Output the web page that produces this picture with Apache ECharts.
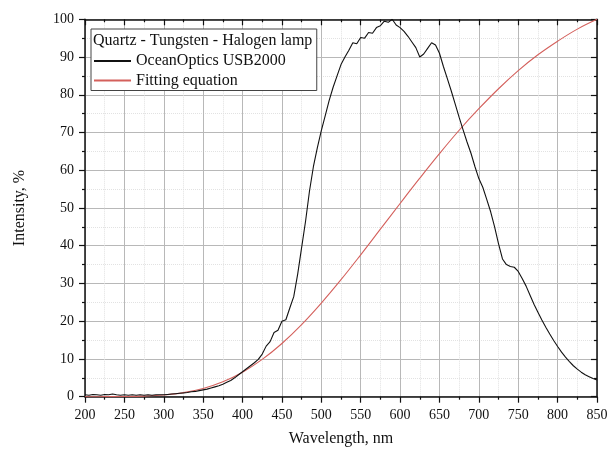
<!DOCTYPE html>
<html>
<head>
<meta charset="utf-8">
<script src="https://cdn.jsdelivr.net/npm/echarts@6/dist/echarts.min.js"></script>
<style>
html,body{margin:0;padding:0;background:#fff;overflow:hidden;}
#chart{width:607px;height:458px;}
</style>
</head>
<body>
<div id="chart"></div>
<script>
// Measured spectrum (OceanOptics USB2000)
var specWl = [200,205,210,215,220,225,230,235,240,245,250,255,260,265,270,275,280,285,290,295,
  300,305,310,315,320,325,330,335,340,345,350,355,360,365,370,375,380,385,390,395,
  400,405,410,415,420,425,430,435,440,445,450,455,460,465,470,475,480,485,490,495,
  500,505,510,515,520,525,530,535,540,545,550,555,560,565,570,575,580,585,590,595,
  600,605,610,615,620,625,630,635,640,645,650,655,660,665,670,675,680,685,690,695,
  700,705,710,715,720,725,730,735,740,745,750,755,760,765,770,775,780,785,790,795,
  800,805,810,815,820,825,830,835,840,845,850];
var specVal = [0.5,0.4,0.6,0.5,0.4,0.6,0.5,0.7,0.5,0.4,0.5,0.4,0.5,0.4,0.5,0.4,0.5,0.4,0.5,0.5,
  0.5,0.6,0.7,0.8,0.9,1.0,1.1,1.3,1.4,1.6,1.8,2.0,2.3,2.6,2.9,3.3,3.8,4.3,5.0,5.8,
  6.6,7.4,8.2,9.0,9.9,11.3,13.4,14.6,17.0,17.6,20.0,20.4,23.5,26.5,32.5,39.5,46.5,54.5,61.0,66.0,
  70.5,74.5,78.5,82.0,85.0,88.0,90.0,91.8,93.8,93.5,95.2,95.0,96.5,96.3,97.8,98.3,99.5,99.2,100,98.5,
  97.8,96.8,95.5,94.0,92.5,90.0,90.8,92.3,93.8,93.2,91.0,87.5,84.3,81.0,77.5,74.0,70.7,67.5,64.5,61.0,
  57.8,55.5,52.3,49.0,45.0,40.5,36.5,35.0,34.5,34.3,33.2,31.3,29.3,26.9,24.5,22.4,20.3,18.4,16.6,14.9,
  13.3,11.8,10.5,9.3,8.2,7.3,6.5,5.8,5.3,4.8,4.4];
// Fitting equation curve
var fitWl = [200,225,250,275,300,325,350,375,400,425,450,475,500,525,550,575,600,625,650,675,700,725,750,775,800,825,850];
var fitVal = [0.0,0.01,0.04,0.16,0.46,1.08,2.19,3.96,6.5,9.88,14.1,19.1,24.8,31.0,37.6,44.4,51.2,57.9,64.4,70.6,76.3,81.6,86.4,90.6,94.2,97.4,100];
var seriesNames = ['OceanOptics USB2000', 'Fitting equation'];
var legendTitle = 'Quartz - Tungsten - Halogen lamp';
var xName = 'Wavelength, nm';
var yName = 'Intensity, %';

function pairs(xs, ys){ return xs.map(function(x,i){ return [x, ys[i]]; }); }

var FONT = 'Liberation Serif';
var chart = echarts.init(document.getElementById('chart'), null, {renderer:'canvas', width:607, height:458});
var majorGrid = {show:true, lineStyle:{color:'#b8b8b8', width:1}};
var minorGrid = {show:true, lineStyle:{color:'#e2e2e2', width:1, type:'dotted'}};
var axisLine = {show:true, onZero:false, lineStyle:{color:'#111', width:1.5}};
chart.setOption({
  animation:false,
  backgroundColor:'#fff',
  title:{
    text:legendTitle, left:93, top:33, padding:0,
    textStyle:{fontFamily:FONT, fontSize:16, fontWeight:'normal', color:'#111'}
  },
  legend:{
    data:seriesNames, orient:'vertical', left:91, top:29,
    padding:[24,31,2,2], itemGap:3.5, itemWidth:37, itemHeight:14,
    backgroundColor:'#fff', borderColor:'#444', borderWidth:1,
    textStyle:{fontFamily:FONT, fontSize:16, color:'#111', lineHeight:16},
    itemStyle:{opacity:0}
  },
  grid:{left:85, right:10, top:19.3, bottom:61.3, containLabel:false, outerBoundsMode:'none'},
  xAxis:[{
    type:'value', min:200, max:850, interval:50, position:'bottom',
    name:xName, nameLocation:'middle', nameGap:34,
    nameTextStyle:{fontFamily:FONT, fontSize:16, color:'#111'},
    axisLine:axisLine,
    axisTick:{show:true, inside:false, length:6, lineStyle:{color:'#111', width:1.2}},
    minorTick:{show:true, splitNumber:2, length:3, lineStyle:{color:'#111', width:1.2}},
    axisLabel:{fontFamily:FONT, fontSize:14, color:'#111', margin:12},
    splitLine:majorGrid, minorSplitLine:minorGrid
  },{
    type:'value', min:200, max:850, interval:50, position:'top',
    axisLine:axisLine,
    axisTick:{show:true, inside:true, length:6, lineStyle:{color:'#111', width:1.2}},
    minorTick:{show:true, splitNumber:2, length:3, lineStyle:{color:'#111', width:1.2}},
    axisLabel:{show:false}, splitLine:{show:false}
  }],
  yAxis:[{
    type:'value', min:0, max:100, interval:10, position:'left',
    name:yName, nameLocation:'middle', nameGap:57,
    nameTextStyle:{fontFamily:FONT, fontSize:16, color:'#111'},
    axisLine:axisLine,
    axisTick:{show:true, inside:false, length:6, lineStyle:{color:'#111', width:1.2}},
    minorTick:{show:true, splitNumber:2, length:3, lineStyle:{color:'#111', width:1.2}},
    axisLabel:{fontFamily:FONT, fontSize:14, color:'#111', margin:11},
    splitLine:majorGrid, minorSplitLine:minorGrid
  },{
    type:'value', min:0, max:100, interval:10, position:'right',
    axisLine:axisLine,
    axisTick:{show:true, inside:true, length:6, lineStyle:{color:'#111', width:1.2}},
    minorTick:{show:true, splitNumber:2, length:3, lineStyle:{color:'#111', width:1.2}},
    axisLabel:{show:false}, splitLine:{show:false}
  }],
  series:[{
    name:seriesNames[0], type:'line', showSymbol:false, symbol:'none',
    data:pairs(specWl, specVal), color:'#111',
    lineStyle:{color:'#111', width:1.1}, z:3
  },{
    name:seriesNames[1], type:'line', showSymbol:false, symbol:'none', smooth:0.4,
    data:pairs(fitWl, fitVal), color:'#d4605c',
    lineStyle:{color:'#d4605c', width:1.1}, z:2
  }]
});
</script>
</body>
</html>
